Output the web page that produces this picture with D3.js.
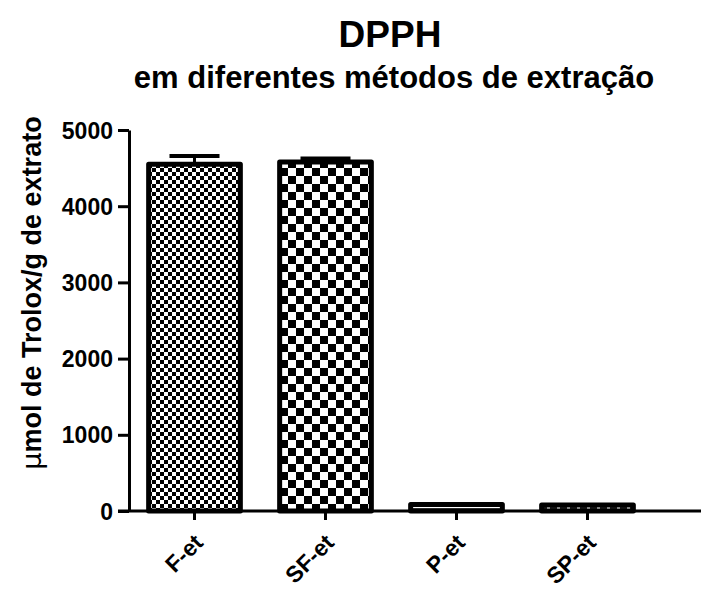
<!DOCTYPE html>
<html><head><meta charset="utf-8">
<script src="https://cdn.jsdelivr.net/npm/d3@7"></script>
<style>body{margin:0;background:#fff}svg{display:block}</style>
</head><body><svg id="c" width="701" height="593" font-family="Liberation Sans, Arial, sans-serif" font-weight="bold"></svg>
<script>
const categories = ["F-et","SF-et","P-et","SP-et"];
const values = [4550, 4580, 85, 80];
const errors = [110, 45, 0, 0];
const patterns = ["fine","coarse","lines","dashes"];
const yTicks = [0,1000,2000,3000,4000,5000];

const svg = d3.select("#c");
const defs = svg.append("defs");
let p = defs.append("pattern").attr("id","fine").attr("patternUnits","userSpaceOnUse").attr("width",8).attr("height",8);
p.append("rect").attr("width",8).attr("height",8).attr("fill","#fff");
p.append("rect").attr("width",4).attr("height",4).attr("fill","#000");
p.append("rect").attr("x",4).attr("y",4).attr("width",4).attr("height",4).attr("fill","#000");
p = defs.append("pattern").attr("id","coarse").attr("patternUnits","userSpaceOnUse").attr("width",16).attr("height",16);
p.append("rect").attr("width",16).attr("height",16).attr("fill","#fff");
p.append("rect").attr("width",8).attr("height",8).attr("fill","#000");
p.append("rect").attr("x",8).attr("y",8).attr("width",8).attr("height",8).attr("fill","#000");
p = defs.append("pattern").attr("id","lines").attr("patternUnits","userSpaceOnUse").attr("width",8).attr("height",6);
p.append("rect").attr("width",8).attr("height",6).attr("fill","#fff");
p.append("rect").attr("y",4).attr("width",8).attr("height",1.2).attr("fill","#555");
p = defs.append("pattern").attr("id","dashes").attr("patternUnits","userSpaceOnUse").attr("width",10).attr("height",6);
p.append("rect").attr("width",10).attr("height",6).attr("fill","#fff");
p.append("rect").attr("y",3).attr("width",7).attr("height",2).attr("fill","#222");

const x = d3.scaleBand().domain(categories).range([129,653]).paddingInner(0.3).paddingOuter(0.15);
const y = d3.scaleLinear().domain([0,5000]).range([511,130]);

// title
svg.append("text").attr("x",390).attr("y",47).attr("text-anchor","middle").attr("font-size",37).text("DPPH");
svg.append("text").attr("x",394).attr("y",88).attr("text-anchor","middle").attr("font-size",31).text("em diferentes métodos de extração");

// y label
const yl = svg.append("text").attr("transform","translate(41,293) rotate(-90)").attr("text-anchor","middle").attr("font-size",27);
yl.append("tspan").attr("font-family","DejaVu Sans").attr("font-weight","normal").text("μ");
yl.append("tspan").text("mol de Trolox/g de extrato");

// bars
const g = svg.append("g");
g.selectAll("rect.bar").data(categories).join("rect").attr("class","bar")
 .attr("x",d=>x(d)).attr("width",x.bandwidth())
 .attr("y",(d,i)=>y(values[i])).attr("height",(d,i)=>y(0)-y(values[i]))
 .attr("fill",(d,i)=>`url(#${patterns[i]})`).attr("stroke","#000").attr("stroke-width",5).attr("stroke-linejoin","round");

// error bars
categories.forEach((c,i)=>{
  if(!errors[i]) return;
  const cx = x(c)+x.bandwidth()/2;
  g.append("line").attr("x1",cx).attr("x2",cx).attr("y1",y(values[i])).attr("y2",y(values[i]+errors[i])).attr("stroke","#000").attr("stroke-width",3);
  g.append("line").attr("x1",cx-25).attr("x2",cx+25).attr("y1",y(values[i]+errors[i])).attr("y2",y(values[i]+errors[i])).attr("stroke","#000").attr("stroke-width",4);
});

// y axis
const ya = svg.append("g").attr("transform","translate(129,0)")
 .call(d3.axisLeft(y).tickValues(yTicks).tickFormat(d3.format("d")).tickSize(11).tickPadding(5).tickSizeOuter(0));
ya.select(".domain").attr("stroke-width",3);
ya.selectAll(".tick line").attr("stroke-width",3);
ya.selectAll(".tick text").attr("font-size",23).attr("font-family","Liberation Sans, Arial").attr("font-weight","bold").attr("fill","#000").attr("dy","0.35em");

// x axis
const xa = svg.append("g").attr("transform","translate(0,511)")
 .call(d3.axisBottom(x).tickSize(9).tickSizeOuter(0));
xa.select(".domain").attr("d","M118,0H701").attr("stroke-width",3);
xa.selectAll(".tick line").attr("stroke-width",3);
xa.selectAll(".tick text").attr("font-size",23).attr("font-family","Liberation Sans, Arial").attr("font-weight","bold").attr("fill","#000")
 .attr("text-anchor","end").attr("transform","translate(10,33) rotate(-45)").attr("dy","0").attr("y",0);
</script></body></html>
